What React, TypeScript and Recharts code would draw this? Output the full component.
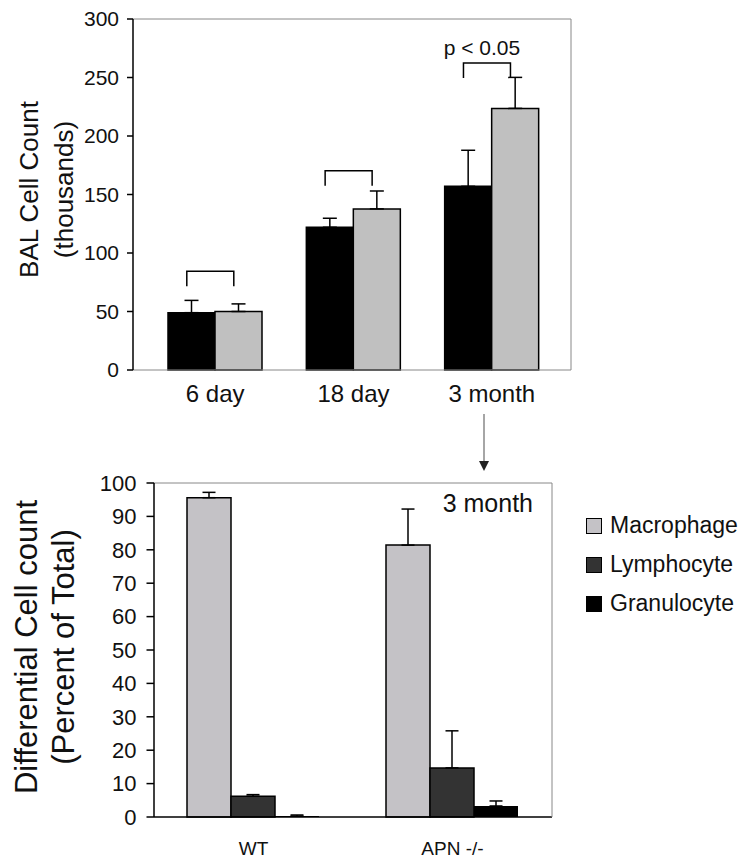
import React from "react";
import { Bar, BarChart, ErrorBar, Legend, Rectangle, XAxis, YAxis } from "recharts";

const FONT = '"Liberation Sans", Arial, Helvetica, sans-serif';

// top panel: BAL cell count (thousands)
const timepoints = ["6 day", "18 day", "3 month"];
const wtCount = [49, 122, 157];
const wtCountErr = [10.5, 7.7, 30.8];
const apnCount = [50, 137.7, 223.6];
const apnCountErr = [6.5, 15.3, 26.5];
const bracketTop = [84.4, 170.4, 262.4];
const bracketNote = ["", "", "p < 0.05"];
const countTicks = [0, 50, 100, 150, 200, 250, 300];

// bottom panel: differential count at 3 month
const groups = ["WT", "APN -/-"];
const cellTypes = ["Macrophage", "Lymphocyte", "Granulocyte"];
const macrophage = [95.6, 81.4];
const macrophageErr = [1.6, 10.8];
const lymphocyte = [6.2, 14.7];
const lymphocyteErr = [0.5, 11.1];
const granulocyte = [0.3, 3.3];
const granulocyteErr = [0.3, 1.5];
const percentTicks = [0, 10, 20, 30, 40, 50, 60, 70, 80, 90, 100];
const groupEdges = [0, 1, 2];

const countData = timepoints.map((t, i) => ({
  t,
  wt: wtCount[i],
  wtErr: [0, wtCountErr[i]],
  apn: apnCount[i],
  apnErr: [0, apnCountErr[i]],
  bracket: bracketTop[i],
  note: bracketNote[i],
}));

const cellData = groups.map((g, i) => ({
  g,
  mac: macrophage[i],
  macErr: [0, macrophageErr[i]],
  lym: lymphocyte[i],
  lymErr: [0, lymphocyteErr[i]],
  gra: granulocyte[i],
  graErr: [0, granulocyteErr[i]],
}));

function BarWithBracket(props: any) {
  const { x, y, width, height, payload } = props;
  const perUnit = height / payload.wt;
  const top = y + height - payload.bracket * perUnit;
  const x1 = x + width * 0.4;
  const x2 = x + width * 1.4;
  return (
    <g>
      <Rectangle {...props} />
      <path
        d={`M${x1},${top + 15}V${top}H${x2}V${top + 15}`}
        fill="none"
        stroke="#000"
        strokeWidth={1.5}
      />
      {payload.note ? (
        <text x={(x1 + x2) / 2 - 5} y={top - 8} textAnchor="middle" fontSize={21} fontFamily={FONT} fill="#111">
          {payload.note}
        </text>
      ) : null}
    </g>
  );
}

function AxisTitle({ viewBox, lines, size, xs, shift }: any) {
  const cy = viewBox.y + viewBox.height / 2 + shift;
  return (
    <g>
      {lines.map((line: string, i: number) => (
        <text
          key={line}
          x={xs[i]}
          y={cy}
          transform={`rotate(-90, ${xs[i]}, ${cy})`}
          textAnchor="middle"
          fontSize={size}
          fontFamily={FONT}
          fill="#111"
        >
          {line}
        </text>
      ))}
    </g>
  );
}

function CellLegend({ payload }: any) {
  const items = [...(payload || [])].sort(
    (a: any, b: any) => cellTypes.indexOf(a.value) - cellTypes.indexOf(b.value)
  );
  return (
    <div style={{ fontFamily: FONT, fontSize: 23, color: "#111" }}>
      {items.map((entry: any) => (
        <div key={entry.value} style={{ display: "flex", alignItems: "center", height: 39 }}>
          <span
            style={{
              display: "inline-block",
              width: 14,
              height: 14,
              background: entry.color,
              border: "1px solid #000",
              marginRight: 8,
            }}
          />
          <span>{entry.value}</span>
        </div>
      ))}
    </div>
  );
}

export default function App() {
  return (
    <div style={{ position: "absolute", left: 0, top: 0, width: 745, height: 860, background: "#fff" }}>
      <div style={{ position: "absolute", left: 0, top: 0 }}>
        <BarChart
          width={600}
          height={420}
          data={countData}
          margin={{ top: 18, right: 28, bottom: 0, left: 0 }}
          barCategoryGap={22}
          barGap={0}
        >
          <XAxis xAxisId="frame" orientation="top" dataKey="t" tick={false} tickLine={false} axisLine={{ stroke: "#888" }} height={1} />
          <XAxis
            dataKey="t"
            tickLine={false}
            tickSize={0}
            tickMargin={15}
            axisLine={{ stroke: "#888" }}
            padding={{ left: 13, right: 10 }}
            height={50}
            interval={0}
            tick={{ fontSize: 24, fontFamily: FONT, fill: "#111" }}
          />
          <YAxis
            domain={[0, 300]}
            ticks={countTicks}
            tickSize={6}
            tickMargin={8}
            width={133}
            interval={0}
            axisLine={{ stroke: "#000", strokeWidth: 1.5 }}
            tickLine={{ stroke: "#000", strokeWidth: 1.5 }}
            tick={{ fontSize: 21, fontFamily: FONT, fill: "#111" }}
            label={{
              content: (p: any) => (
                <AxisTitle viewBox={p.viewBox} lines={["BAL Cell Count", "(thousands)"]} size={26} xs={[38, 73]} shift={-5} />
              ),
            }}
          />
          <YAxis yAxisId="frame" orientation="right" domain={[0, 1]} tick={false} tickLine={false} axisLine={{ stroke: "#888" }} width={1} />
          <Bar dataKey="wt" name="WT" fill="#000" stroke="#000" strokeWidth={1.5} shape={BarWithBracket} isAnimationActive={false}>
            <ErrorBar dataKey="wtErr" width={7} stroke="#000" strokeWidth={1.5} direction="y" />
          </Bar>
          <Bar dataKey="apn" name="APN -/-" fill="#c0c0c0" stroke="#000" strokeWidth={1.5} isAnimationActive={false}>
            <ErrorBar dataKey="apnErr" width={7} stroke="#000" strokeWidth={1.5} direction="y" />
          </Bar>
        </BarChart>
      </div>

      <svg style={{ position: "absolute", left: 0, top: 0 }} width={745} height={860} pointerEvents="none">
        <line x1={484} y1={414} x2={484} y2={462} stroke="#888" strokeWidth={1.5} />
        <polygon points="479,461 489,461 484,471" fill="#222" />
      </svg>

      <div style={{ position: "absolute", left: 0, top: 440 }}>
        <BarChart
          width={745}
          height={420}
          data={cellData}
          margin={{ top: 42, right: 192, bottom: 0, left: 0 }}
          barCategoryGap={33}
          barGap={0}
        >
          <XAxis
            dataKey="g"
            tickLine={false}
            axisLine={{ stroke: "#000", strokeWidth: 1.5 }}
            tickSize={0}
            tickMargin={25}
            height={1}
            interval={0}
            tick={{ fontSize: 19, fontFamily: FONT, fill: "#111" }}
          />
          <XAxis
            xAxisId="edges"
            type="number"
            domain={[0, groups.length]}
            ticks={groupEdges}
            tick={false}
            tickSize={8}
            axisLine={false}
            tickLine={{ stroke: "#000", strokeWidth: 1.5 }}
            height={42}
          />
          <XAxis xAxisId="frame" orientation="top" dataKey="g" tick={false} tickLine={false} axisLine={{ stroke: "#888" }} height={1} />
          <YAxis
            domain={[0, 100]}
            ticks={percentTicks}
            tickSize={7.5}
            tickMargin={10}
            width={154}
            interval={0}
            axisLine={{ stroke: "#000", strokeWidth: 1.5 }}
            tickLine={{ stroke: "#000", strokeWidth: 1.5 }}
            tick={{ fontSize: 22, fontFamily: FONT, fill: "#111" }}
            label={{
              content: (p: any) => (
                <AxisTitle
                  viewBox={p.viewBox}
                  lines={["Differential Cell count", "(Percent of Total)"]}
                  size={31}
                  xs={[37, 74]}
                  shift={-3}
                />
              ),
            }}
          />
          <YAxis yAxisId="frame" orientation="right" domain={[0, 1]} tick={false} tickLine={false} axisLine={{ stroke: "#888" }} width={1} />
          <Legend
            layout="vertical"
            align="center"
            verticalAlign="middle"
            wrapperStyle={{ left: 586, top: 66, width: 160 }}
            content={CellLegend}
          />
          <Bar dataKey="mac" name="Macrophage" fill="#c4c2c6" stroke="#000" strokeWidth={1.5} isAnimationActive={false}>
            <ErrorBar dataKey="macErr" width={6.5} stroke="#000" strokeWidth={1.5} direction="y" />
          </Bar>
          <Bar dataKey="lym" name="Lymphocyte" fill="#333333" stroke="#000" strokeWidth={1.5} isAnimationActive={false}>
            <ErrorBar dataKey="lymErr" width={6.5} stroke="#000" strokeWidth={1.5} direction="y" />
          </Bar>
          <Bar dataKey="gra" name="Granulocyte" fill="#000" stroke="none" isAnimationActive={false}>
            <ErrorBar dataKey="graErr" width={6.5} stroke="#000" strokeWidth={1.5} direction="y" />
          </Bar>
        </BarChart>
      </div>

      <div
        style={{
          position: "absolute",
          left: 420,
          top: 489,
          width: 113,
          textAlign: "right",
          fontFamily: FONT,
          fontSize: 25,
          color: "#111",
        }}
      >
        3 month
      </div>
    </div>
  );
}
